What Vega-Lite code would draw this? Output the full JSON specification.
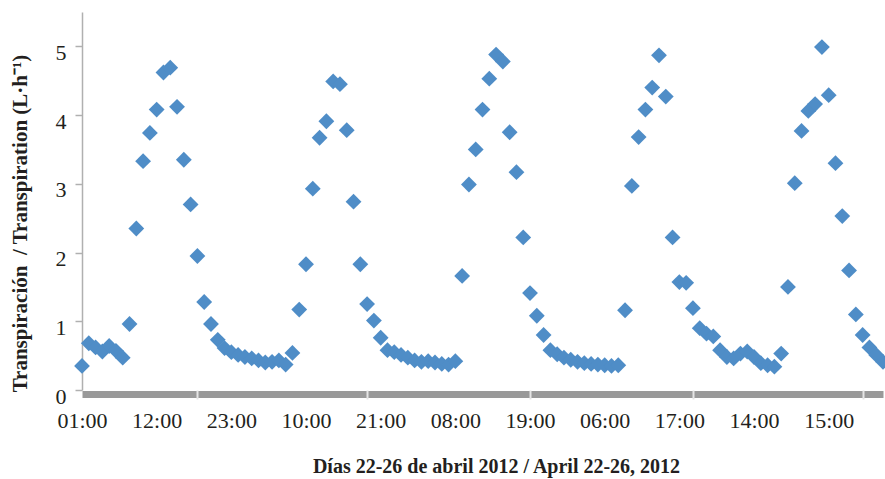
{
  "$schema": "https://vega.github.io/schema/vega-lite/v6.json",
  "width": 801,
  "height": 378,
  "autosize": "none",
  "padding": {"left": 82, "top": 12, "right": 2, "bottom": 89},
  "background": "white",
  "config": {"view": {"stroke": null}, "font": "Liberation Serif"},
  "data": {
    "values": [
      {"t": "22/04 01:00", "v": 0.35}, {"t": "22/04 02:00", "v": 0.68}, {"t": "22/04 03:00", "v": 0.62}, {"t": "22/04 04:00", "v": 0.56},
      {"t": "22/04 05:00", "v": 0.64}, {"t": "22/04 06:00", "v": 0.57}, {"t": "22/04 07:00", "v": 0.47}, {"t": "22/04 08:00", "v": 0.96},
      {"t": "22/04 09:00", "v": 2.35}, {"t": "22/04 10:00", "v": 3.33}, {"t": "22/04 11:00", "v": 3.74}, {"t": "22/04 12:00", "v": 4.08},
      {"t": "22/04 13:00", "v": 4.62}, {"t": "22/04 14:00", "v": 4.69}, {"t": "22/04 15:00", "v": 4.12}, {"t": "22/04 16:00", "v": 3.35},
      {"t": "22/04 17:00", "v": 2.70}, {"t": "22/04 18:00", "v": 1.95}, {"t": "22/04 19:00", "v": 1.28}, {"t": "22/04 20:00", "v": 0.96},
      {"t": "22/04 21:00", "v": 0.73}, {"t": "22/04 22:00", "v": 0.61}, {"t": "22/04 23:00", "v": 0.55},
      {"t": "23/04 00:00", "v": 0.51}, {"t": "23/04 01:00", "v": 0.48}, {"t": "23/04 02:00", "v": 0.46}, {"t": "23/04 03:00", "v": 0.43},
      {"t": "23/04 04:00", "v": 0.40}, {"t": "23/04 05:00", "v": 0.41}, {"t": "23/04 06:00", "v": 0.43}, {"t": "23/04 07:00", "v": 0.37},
      {"t": "23/04 08:00", "v": 0.54}, {"t": "23/04 09:00", "v": 1.17}, {"t": "23/04 10:00", "v": 1.83}, {"t": "23/04 11:00", "v": 2.93},
      {"t": "23/04 12:00", "v": 3.67}, {"t": "23/04 13:00", "v": 3.91}, {"t": "23/04 14:00", "v": 4.49}, {"t": "23/04 15:00", "v": 4.45},
      {"t": "23/04 16:00", "v": 3.78}, {"t": "23/04 17:00", "v": 2.74}, {"t": "23/04 18:00", "v": 1.83}, {"t": "23/04 19:00", "v": 1.25},
      {"t": "23/04 20:00", "v": 1.01}, {"t": "23/04 21:00", "v": 0.76}, {"t": "23/04 22:00", "v": 0.58}, {"t": "23/04 23:00", "v": 0.55},
      {"t": "24/04 00:00", "v": 0.51}, {"t": "24/04 01:00", "v": 0.47}, {"t": "24/04 02:00", "v": 0.43}, {"t": "24/04 03:00", "v": 0.41},
      {"t": "24/04 04:00", "v": 0.42}, {"t": "24/04 05:00", "v": 0.40}, {"t": "24/04 06:00", "v": 0.38}, {"t": "24/04 07:00", "v": 0.37},
      {"t": "24/04 08:00", "v": 0.42}, {"t": "24/04 09:00", "v": 1.66}, {"t": "24/04 10:00", "v": 2.99}, {"t": "24/04 11:00", "v": 3.50},
      {"t": "24/04 12:00", "v": 4.08}, {"t": "24/04 13:00", "v": 4.53}, {"t": "24/04 14:00", "v": 4.88}, {"t": "24/04 15:00", "v": 4.78},
      {"t": "24/04 16:00", "v": 3.75}, {"t": "24/04 17:00", "v": 3.17}, {"t": "24/04 18:00", "v": 2.22}, {"t": "24/04 19:00", "v": 1.41},
      {"t": "24/04 20:00", "v": 1.08}, {"t": "24/04 21:00", "v": 0.80}, {"t": "24/04 22:00", "v": 0.58}, {"t": "24/04 23:00", "v": 0.52},
      {"t": "25/04 00:00", "v": 0.47}, {"t": "25/04 01:00", "v": 0.44}, {"t": "25/04 02:00", "v": 0.41}, {"t": "25/04 03:00", "v": 0.39},
      {"t": "25/04 04:00", "v": 0.38}, {"t": "25/04 05:00", "v": 0.37}, {"t": "25/04 06:00", "v": 0.36}, {"t": "25/04 07:00", "v": 0.35},
      {"t": "25/04 08:00", "v": 0.36}, {"t": "25/04 09:00", "v": 1.16}, {"t": "25/04 10:00", "v": 2.97}, {"t": "25/04 11:00", "v": 3.68},
      {"t": "25/04 12:00", "v": 4.08}, {"t": "25/04 13:00", "v": 4.40}, {"t": "25/04 14:00", "v": 4.87}, {"t": "25/04 15:00", "v": 4.27},
      {"t": "25/04 16:00", "v": 2.22}, {"t": "25/04 17:00", "v": 1.57},
      {"t": "26/04 04:00", "v": 1.56}, {"t": "26/04 05:00", "v": 1.19}, {"t": "26/04 06:00", "v": 0.90}, {"t": "26/04 07:00", "v": 0.82},
      {"t": "26/04 08:00", "v": 0.78}, {"t": "26/04 09:00", "v": 0.58}, {"t": "26/04 10:00", "v": 0.48}, {"t": "26/04 11:00", "v": 0.46},
      {"t": "26/04 12:00", "v": 0.53}, {"t": "26/04 13:00", "v": 0.56}, {"t": "26/04 14:00", "v": 0.48}, {"t": "26/04 15:00", "v": 0.39},
      {"t": "26/04 16:00", "v": 0.36}, {"t": "26/04 17:00", "v": 0.34}, {"t": "26/04 18:00", "v": 0.53}, {"t": "26/04 19:00", "v": 1.50},
      {"t": "27/04 10:00", "v": 3.01}, {"t": "27/04 11:00", "v": 3.77}, {"t": "27/04 12:00", "v": 4.06}, {"t": "27/04 13:00", "v": 4.16},
      {"t": "27/04 14:00", "v": 4.99}, {"t": "27/04 15:00", "v": 4.29}, {"t": "27/04 16:00", "v": 3.30}, {"t": "27/04 17:00", "v": 2.53},
      {"t": "27/04 18:00", "v": 1.74}, {"t": "27/04 19:00", "v": 1.10}, {"t": "27/04 20:00", "v": 0.80}, {"t": "27/04 21:00", "v": 0.62},
      {"t": "27/04 22:00", "v": 0.51}, {"t": "27/04 23:00", "v": 0.41}
    ]
  },
  "layer": [
    {
      "mark": {"type": "point", "shape": "diamond", "filled": true, "size": 250, "color": "#4f8dc7", "opacity": 1, "clip": false},
      "encoding": {
        "x": {
          "field": "t", "type": "ordinal", "sort": null,
          "scale": {"type": "point", "padding": 0},
          "axis": {
            "orient": "bottom",
            "values": ["22/04 01:00", "22/04 12:00", "22/04 23:00", "23/04 10:00", "23/04 21:00", "24/04 08:00", "24/04 19:00", "25/04 06:00", "25/04 17:00", "26/04 14:00", "27/04 15:00"],
            "labelExpr": "substring(datum.value, 6)",
            "labelAngle": 0, "labelOverlap": false, "labelFlush": false,
            "labelFont": "Liberation Serif", "labelFontSize": 22, "labelColor": "#231f20",
            "labelBaseline": "middle", "labelPadding": 26,
            "ticks": false, "tickSize": 0, "grid": false,
            "domain": true, "domainColor": "#999999", "domainWidth": 7, "offset": 4,
            "zindex": 1,
            "title": "Días 22-26 de abril 2012 / April 22-26, 2012",
            "titleFont": "Liberation Serif", "titleFontSize": 20, "titleFontWeight": "bold", "titleColor": "#231f20",
            "titleX": 414, "titleY": 72, "titleAlign": "center", "titleBaseline": "middle", "titleAnchor": null
          }
        },
        "y": {
          "field": "v", "type": "quantitative",
          "scale": {"domain": [0, 5.5], "nice": false, "zero": true},
          "axis": {
            "values": [0, 1, 2, 3, 4, 5],
            "grid": false,
            "domainColor": "#b0b0b0", "domainWidth": 1.5,
            "tickColor": "#b0b0b0", "tickWidth": 1.5, "tickSize": 7,
            "labelFont": "Liberation Serif", "labelFontSize": 22, "labelColor": "#231f20",
            "labelPadding": 9, "labelOffset": 6,
            "title": "Transpiración\u00a0 / Transpiration (L·h⁻¹)",
            "titleFont": "Liberation Serif", "titleFontSize": 21, "titleFontWeight": "bold", "titleColor": "#231f20",
            "titleX": -62, "titleY": 211, "titleAngle": 270, "titleAlign": "center", "titleBaseline": "middle", "titleAnchor": null
          }
        }
      }
    },
    {
      "mark": {"type": "point", "opacity": 0},
      "encoding": {
        "x": {
          "field": "t", "type": "ordinal", "sort": null,
          "axis": {
            "orient": "bottom",
            "values": ["22/04 18:00", "23/04 19:00", "24/04 19:00", "26/04 05:00", "27/04 20:00"],
            "labels": false, "domain": false, "grid": false,
            "ticks": true, "tickColor": "#e4e4e4", "tickSize": 9, "tickWidth": 2,
            "offset": 0, "zindex": 2, "title": null
          }
        }
      }
    }
  ],
  "resolve": {"axis": {"x": "independent"}}
}
